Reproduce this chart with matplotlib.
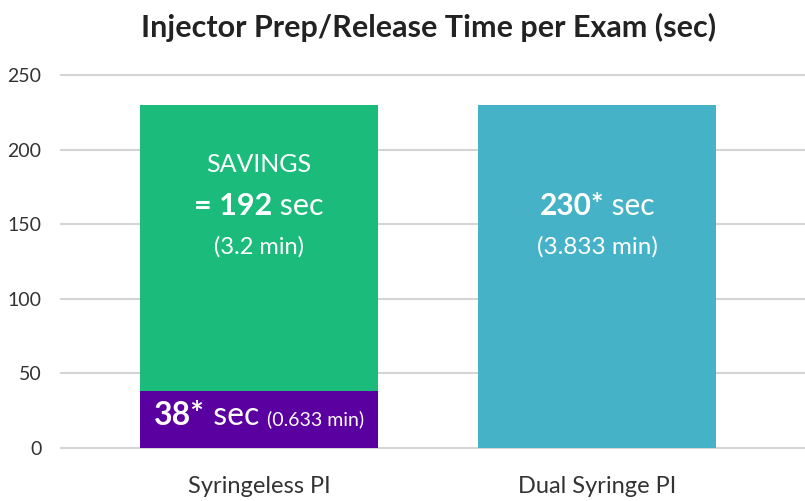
import matplotlib
matplotlib.use("Agg")
import matplotlib.pyplot as plt
from matplotlib.offsetbox import TextArea, HPacker, AnnotationBbox

plt.rcParams['font.family'] = ['Lato', 'DejaVu Sans']

categories = ["Syringeless PI", "Dual Syringe PI"]
syringeless_sec = 38
savings_sec = 192
dual_sec = 230
syringeless_min = "0.633"
savings_min = "3.2"
dual_min = "3.833"
yticks = [0, 50, 100, 150, 200, 250]

c_purple = "#5B00A0"
c_green = "#1BBB7C"
c_cyan = "#46B2C7"
c_text = "#333333"

fig = plt.figure(figsize=(8.05, 5.01), dpi=100)
ax = fig.add_axes([0.0758, 0.106, 0.9242, 0.744])

x = [0, 1]
w = 0.704
ax.bar(x[0], syringeless_sec, width=w, color=c_purple, zorder=2)
ax.bar(x[0], savings_sec, bottom=syringeless_sec, width=w, color=c_green, zorder=2)
ax.bar(x[1], dual_sec, width=w, color=c_cyan, zorder=2)

ax.set_xlim(-0.586, 1.615)
ax.set_ylim(0, 250)
ax.set_yticks(yticks)
ax.set_yticklabels([str(t) for t in yticks])
ax.set_xticks(x)
ax.set_xticklabels(categories)
ax.tick_params(axis='y', length=0, pad=14, labelsize=14, labelcolor=c_text)
ax.tick_params(axis='x', length=0, pad=20, labelsize=17, labelcolor=c_text)
for s in ax.spines.values():
    s.set_visible(False)
ax.yaxis.grid(True, color="#d4d4d4", linewidth=1.5, zorder=0)
ax.set_axisbelow(True)
for gl in ax.get_ygridlines():
    gl.set_clip_on(False)

fig.suptitle("Injector Prep/Release Time per Exam (sec)", x=0.532, y=0.975,
             fontsize=22, fontweight='bold', color="#222222")


def mixed(parts, xy):
    boxes = [TextArea(t, textprops=dict(color='white', fontsize=fs, fontweight=fw))
             for t, fs, fw in parts]
    pack = HPacker(children=boxes, align="baseline", pad=0, sep=0)
    ab = AnnotationBbox(pack, xy, xycoords='data', frameon=False,
                        box_alignment=(0.5, 0.5), zorder=5)
    ax.add_artist(ab)


# savings text
sav_top = syringeless_sec + savings_sec
ax.text(x[0], sav_top * 0.825, "SAVINGS", color='white', fontsize=18,
        ha='center', va='center', zorder=5)
mixed([("= %d" % savings_sec, 22, 'bold'), (" sec", 22, 'normal')], (x[0], sav_top * 0.705))
ax.text(x[0], sav_top * 0.585, "(%s min)" % savings_min, color='white', fontsize=17,
        ha='center', va='center', zorder=5)

# dual text
mixed([("%d*" % dual_sec, 21.5, 'bold'), (" sec", 21.5, 'normal')], (x[1], dual_sec * 0.705))
ax.text(x[1], dual_sec * 0.585, "(%s min)" % dual_min, color='white', fontsize=17.5,
        ha='center', va='center', zorder=5)

# syringeless text
mixed([("%d*" % syringeless_sec, 23, 'bold'), (" sec ", 23, 'normal'),
       ("(%s min)" % syringeless_min, 14, 'normal')], (x[0], syringeless_sec * 0.56))

fig.savefig("out.png", dpi=100)
